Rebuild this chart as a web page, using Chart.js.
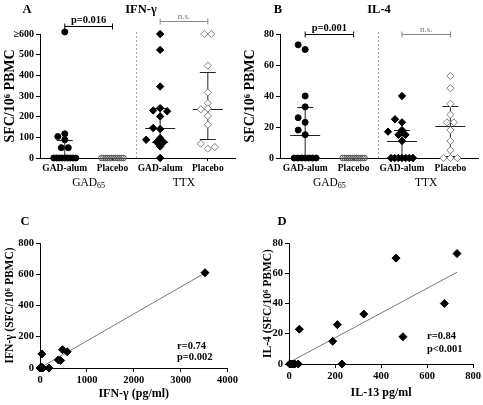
<!DOCTYPE html>
<html><head><meta charset="utf-8">
<script src="https://cdn.jsdelivr.net/npm/chart.js@4"></script>
<style>
html,body{margin:0;padding:0;background:#fff;}
#wrap{position:relative;width:483px;height:405px;overflow:hidden;background:#fff;}
canvas{position:absolute;}
</style></head><body>
<div id="wrap">
<canvas id="cA" width="240" height="200" style="left:0;top:0"></canvas>
<canvas id="cB" width="243" height="200" style="left:240px;top:0"></canvas>
<canvas id="cC" width="240" height="205" style="left:0;top:200px"></canvas>
<canvas id="cD" width="243" height="205" style="left:240px;top:200px"></canvas>
</div>
<script>
// ---------------- data ----------------
const categories = ['GAD-alum', 'Placebo', 'GAD-alum', 'Placebo'];
const antigens = ['GAD65', 'TTX'];

// Panel A: IFN-γ SFC/10^6 PBMC
const ifnGadAlum    = [610, 88, 117, 104, 50, 50, 0, 0, 0, 0, 0, 0, 0, 0, 0];
const ifnGadPlacebo = [0, 0, 0, 0, 0, 0, 0, 0, 0, 0, 0, 0];
const ifnTtxAlum    = [600, 523, 346, 241, 230, 226, 201, 140, 145, 77, 77, 96, 88, 56, 0];
const ifnTtxPlacebo = [600, 600, 447, 317, 265, 240, 236, 204, 161, 45, 69, 53];
const yTicksA = [0, 100, 200, 300, 400, 500, 600];
const yTickLabelsA = ['0', '100', '200', '300', '400', '500', '≥600'];
const bracketsA = [
  {from: 0, to: 1, y: 638, text: 'p=0.016', sig: true},
  {from: 2, to: 3, y: 663, text: 'n.s.', sig: false}
];

// Panel B: IL-4 SFC/10^6 PBMC
const il4GadAlum    = [70, 73, 40, 33, 23, 26, 15, 18, 0, 0, 0, 0, 0, 0, 0];
const il4GadPlacebo = [0, 0, 0, 0, 0, 0, 0, 0, 0, 0, 0, 0];
const il4TtxAlum    = [40, 23, 25, 17, 18, 15, 15, 11, 0, 0, 0, 0, 0, 0, 0];
const il4TtxPlacebo = [53, 45, 35, 28, 23, 23, 18, 11, 5, 0, 0, 0];
const yTicksB = [0, 20, 40, 60, 80];
const yTickLabelsB = ['0', '20', '40', '60', '80'];
const bracketsB = [
  {from: 0, to: 1, y: 80, text: 'p=0.001', sig: true},
  {from: 2, to: 3, y: 80, text: 'n.s.', sig: false}
];

// Panel C: IFN-γ pg/ml vs IFN-γ SFC
const ifnPgml = [3520, 480, 580, 40, 390, 440, 0, 10, 15, 20, 30, 40, 55, 60, 190];
const ifnSfc  = [610, 117, 104, 90, 52, 48, 0, 0, 0, 0, 0, 5, 0, 0, 0];
const statsC = ['r=0.74', 'p=0.002'];

// Panel D: IL-13 pg/ml vs IL-4 SFC
const il13Pgml = [730, 465, 675, 325, 210, 45, 190, 495, 230, 40, 25, 18, 10, 5, 3];
const il4Sfc   = [73, 70, 40, 33, 26, 23, 15, 18, 0, 0, 0, 0, 0, 0, 0];
const statsD = ['r=0.84', 'p<0.001'];

// ---------------- styles / helpers ----------------
const SERIF = "'Liberation Serif','Times New Roman',serif";
const markerStyles = [
  {style: 'circle', r: 3, bg: '#000', bd: '#000'},
  {style: 'circle', r: 2.8, bg: 'rgba(255,255,255,0)', bd: '#555'},
  {style: 'rectRot', r: 3.7, bg: '#000', bd: '#000'},
  {style: 'rectRot', r: 3.6, bg: '#fff', bd: '#808080'}
];

function quantile(sorted, p) {
  const n = sorted.length, pos = p * (n + 1);
  if (pos <= 1) return sorted[0];
  if (pos >= n) return sorted[n - 1];
  const lo = Math.floor(pos);
  return sorted[lo - 1] + (pos - lo) * (sorted[lo] - sorted[lo - 1]);
}

function linReg(xs, ys) {
  const n = xs.length;
  const mx = xs.reduce((a, b) => a + b, 0) / n, my = ys.reduce((a, b) => a + b, 0) / n;
  let sxy = 0, sxx = 0;
  for (let i = 0; i < n; i++) { sxy += (xs[i] - mx) * (ys[i] - my); sxx += (xs[i] - mx) ** 2; }
  const b = sxy / sxx, a = my - b * mx;
  const x0 = Math.min(...xs), x1 = Math.max(...xs);
  return [{x: x0, y: a + b * x0}, {x: x1, y: a + b * x1}];
}

// spread overlapping points sideways (dot-plot layout)
const swarmPlugin = {
  id: 'swarm',
  afterDatasetsUpdate(chart, args, o) {
    chart.data.datasets.forEach((ds, di) => {
      const els = chart.getDatasetMeta(di).data;
      const vals = ds.data.map(p => p.y);
      const placed = [], done = [];
      const rows = {};
      vals.forEach((v, i) => { (rows[v] = rows[v] || []).push(i); });
      Object.values(rows).forEach(idx => {
        if (idx.length < 2) return;
        const n = idx.length, sp = Math.min(o.step, o.rowWidth / (n - 1));
        idx.forEach((i, k) => {
          const el = els[i];
          el.x = el.x + (k - (n - 1) / 2) * sp;
          placed.push({x: el.x, y: el.y}); done[i] = true;
        });
      });
      els.forEach((el, i) => {
        if (done[i]) return;
        const cx = el.x;
        for (let k = 0; k < 30; k++) {
          const off = k === 0 ? 0 : (k % 2 ? -1 : 1) * Math.ceil(k / 2) * o.step;
          const x = cx + off;
          if (placed.every(p => Math.hypot(p.x - x, p.y - el.y) >= o.minDist)) {
            el.x = x; placed.push({x, y: el.y}); break;
          }
        }
      });
    });
  }
};

// median + interquartile range lines, separator
const summaryPlugin = {
  id: 'summary',
  beforeDatasetsDraw(chart) {
    const {ctx, chartArea} = chart;
    const xs = chart.scales.x, ys = chart.scales.y;
    ctx.save();
    ctx.strokeStyle = '#aaa'; ctx.lineWidth = 1; ctx.setLineDash([2, 2]);
    const sx = Math.round(xs.getPixelForValue(1.5)) + 0.5;
    ctx.beginPath(); ctx.moveTo(sx, chartArea.top - 2); ctx.lineTo(sx, chartArea.bottom); ctx.stroke();
    ctx.setLineDash([]);
    ctx.strokeStyle = '#222';
    chart.data.datasets.forEach((ds, i) => {
      const s = ds.data.map(p => p.y).sort((a, b) => a - b);
      const med = quantile(s, 0.5), q1 = quantile(s, 0.25), q3 = quantile(s, 0.75);
      const x = xs.getPixelForValue(i);
      const py = v => Math.round(ys.getPixelForValue(v)) + 0.5;
      ctx.beginPath();
      ctx.moveTo(x, py(q1)); ctx.lineTo(x, py(q3));
      ctx.moveTo(x - 8, py(q1)); ctx.lineTo(x + 8, py(q1));
      ctx.moveTo(x - 8, py(q3)); ctx.lineTo(x + 8, py(q3));
      ctx.moveTo(x - 15, py(med)); ctx.lineTo(x + 15, py(med));
      ctx.stroke();
    });
    ctx.restore();
  }
};

function drawSubLabel(ctx, text, cx, cy, size) {
  const m = text.match(/^(.*?)(\d+)$/);
  const main = m ? m[1] : text, sub = m ? m[2] : '';
  ctx.font = size + 'px ' + SERIF;
  const w1 = ctx.measureText(main).width;
  ctx.font = (size * 0.7) + 'px ' + SERIF;
  const w2 = ctx.measureText(sub).width;
  const x0 = cx - (w1 + w2) / 2;
  ctx.textAlign = 'left'; ctx.textBaseline = 'middle';
  ctx.font = size + 'px ' + SERIF; ctx.fillText(main, x0, cy);
  ctx.font = (size * 0.7) + 'px ' + SERIF; ctx.fillText(sub, x0 + w1, cy + 3);
}

const decorPlugin = {
  id: 'decor',
  afterDraw(chart, args, o) {
    const {ctx, chartArea} = chart;
    ctx.save();
    ctx.fillStyle = '#000'; ctx.textBaseline = 'middle'; ctx.textAlign = 'center';
    ctx.font = 'bold 12.5px ' + SERIF;
    ctx.fillText(o.letter, o.letterX, o.letterY);
    if (o.title) ctx.fillText(o.title, o.titleX, o.letterY);
    const xs = chart.scales.x, ys = chart.scales.y;
    (o.brackets || []).forEach(b => {
      const x0 = xs.getPixelForValue(b.from), x1 = xs.getPixelForValue(b.to);
      const y = Math.round(ys.getPixelForValue(b.y)) + 0.5;
      ctx.strokeStyle = b.sig ? '#000' : '#888'; ctx.lineWidth = 1;
      ctx.beginPath();
      ctx.moveTo(x0, y); ctx.lineTo(x1, y);
      ctx.moveTo(x0, y - 3); ctx.lineTo(x0, y + 3);
      ctx.moveTo(x1, y - 3); ctx.lineTo(x1, y + 3);
      ctx.stroke();
      ctx.fillStyle = b.sig ? '#000' : '#777';
      ctx.font = b.sig ? 'bold 10.5px ' + SERIF : '9px ' + SERIF;
      ctx.fillText(b.text, (x0 + x1) / 2, y - (b.sig ? 6 : 5));
    });
    ctx.fillStyle = '#000';
    (o.groups || []).forEach((g, gi) => {
      const cx = (xs.getPixelForValue(gi * 2) + xs.getPixelForValue(gi * 2 + 1)) / 2;
      drawSubLabel(ctx, g, cx, chartArea.bottom + 25, 11.5);
    });
    (o.stats || []).forEach((t, i) => {
      ctx.font = 'bold 10.5px ' + SERIF; ctx.textAlign = 'left';
      ctx.fillText(t, o.statsX, o.statsY + i * o.statsGap);
    });
    ctx.restore();
  }
};

const tickFont = {family: SERIF, weight: 'bold', size: 10};

function dotChart(id, series, yMax, yTicks, yLabels, brackets, letter, title, titleX) {
  const datasets = series.map((vals, i) => {
    const m = markerStyles[i];
    return {
      data: vals.map(v => ({x: i, y: v})),
      pointStyle: m.style, pointRadius: m.r,
      pointBackgroundColor: m.bg, pointBorderColor: m.bd, pointBorderWidth: 1,
      backgroundColor: m.bg, borderColor: m.bd, clip: false
    };
  });
  return new Chart(document.getElementById(id), {
    type: 'scatter',
    data: {datasets},
    options: {
      responsive: false, animation: false, devicePixelRatio: 1,
      layout: {padding: {top: 34, right: 5, left: 0, bottom: 0}},
      events: [],
      plugins: {
        legend: {display: false}, tooltip: {enabled: false},
        swarm: {step: 7, minDist: 5, rowWidth: 22},
        decor: {letter, letterX: id === 'cA' ? 27 : 38, letterY: 10, title, titleX, brackets, groups: antigens}
      },
      scales: {
        x: {
          type: 'linear', min: -0.52, max: 3.57,
          afterBuildTicks: s => { s.ticks = categories.map((c, i) => ({value: i})); },
          afterFit: s => { s.height = 42; },
          ticks: {callback: v => categories[v], font: {family: SERIF, weight: 'bold', size: 9.5}, color: '#000', padding: 2, maxRotation: 0, autoSkip: false},
          grid: {drawOnChartArea: false, tickLength: 3, color: '#000'},
          border: {color: '#000', width: 1}
        },
        y: {
          min: 0, max: yMax,
          afterBuildTicks: s => { s.ticks = yTicks.map(v => ({value: v})); },
          afterFit: s => { s.width = 40; },
          ticks: {callback: (v) => yLabels[yTicks.indexOf(v)], font: tickFont, color: '#000', padding: 2, autoSkip: false},
          grid: {drawOnChartArea: false, tickLength: 4, color: '#000'},
          border: {color: '#000', width: 1},
          title: {display: true, text: 'SFC/10⁶ PBMC', font: {family: SERIF, weight: 'bold', size: 14}, color: '#000', padding: {top: 2, bottom: 0}}
        }
      }
    },
    plugins: [swarmPlugin, summaryPlugin, decorPlugin]
  });
}

function corrChart(id, xs, ys, xMax, xStep, yMax, yStep, xTitle, yTitle, o) {
  const pts = xs.map((x, i) => ({x, y: ys[i]}));
  return new Chart(document.getElementById(id), {
    type: 'scatter',
    data: {datasets: [
      {data: pts, pointStyle: 'rectRot', pointRadius: 4, pointBackgroundColor: '#000', pointBorderColor: '#000',
       backgroundColor: '#000', borderColor: '#000', clip: false, order: 0},
      {type: 'line', data: linReg(xs, ys), borderColor: '#777', borderWidth: 1, pointRadius: 0, fill: false, order: 1, clip: false}
    ]},
    options: {
      responsive: false, animation: false, devicePixelRatio: 1, events: [],
      layout: {padding: {top: 43, right: o.padRight, left: 0, bottom: 0}},
      plugins: {
        legend: {display: false}, tooltip: {enabled: false},
        decor: {letter: o.letter, letterX: o.letterX, letterY: 22, stats: o.stats, statsX: o.statsX, statsY: o.statsY, statsGap: o.statsGap}
      },
      scales: {
        x: {
          type: 'linear', min: 0, max: xMax,
          ticks: {stepSize: xStep, callback: v => String(v), font: {family: SERIF, weight: 'bold', size: 10.5}, color: '#000', padding: 2, maxRotation: 0},
          afterFit: s => { s.height = o.xBox; },
          grid: {drawOnChartArea: false, tickLength: 4, color: '#000'},
          border: {color: '#000', width: 1},
          title: {display: true, text: xTitle, font: {family: SERIF, weight: 'bold', size: 12}, color: '#000', padding: {top: 0, bottom: o.xTitlePad}}
        },
        y: {
          min: 0, max: yMax,
          ticks: {stepSize: yStep, callback: v => String(v), font: {family: SERIF, weight: 'bold', size: 10.5}, color: '#000', padding: 2},
          afterFit: s => { s.width = o.yBox; },
          grid: {drawOnChartArea: false, tickLength: 4, color: '#000'},
          border: {color: '#000', width: 1},
          title: {display: true, text: yTitle, font: {family: SERIF, weight: 'bold', size: 11.5}, color: '#000', padding: {top: o.yTitlePad, bottom: 0}}
        }
      }
    },
    plugins: [decorPlugin]
  });
}

dotChart('cA', [ifnGadAlum, ifnGadPlacebo, ifnTtxAlum, ifnTtxPlacebo], 600, yTicksA, yTickLabelsA, bracketsA, 'A', 'IFN-γ', 141);
dotChart('cB', [il4GadAlum, il4GadPlacebo, il4TtxAlum, il4TtxPlacebo], 80, yTicksB, yTickLabelsB, bracketsB, 'B', 'IL-4', 139);

corrChart('cC', ifnPgml, ifnSfc, 4000, 1000, 800, 200, 'IFN-γ (pg/ml)', 'IFN-γ (SFC/10⁶ PBMC)',
  {padRight: 12, letter: 'C', letterX: 25, stats: statsC, statsX: 177, statsY: 146, statsGap: 11.5, xBox: 37, yBox: 40, xTitlePad: 4, yTitlePad: 3});
corrChart('cD', il13Pgml, il4Sfc, 800, 200, 80, 20, 'IL-13 pg/ml', 'IL-4 (SFC/10⁶ PBMC)',
  {padRight: 9, letter: 'D', letterX: 42, stats: statsD, statsX: 187, statsY: 136, statsGap: 13, xBox: 41, yBox: 49, xTitlePad: 5, yTitlePad: 21});
</script>
</body></html>
